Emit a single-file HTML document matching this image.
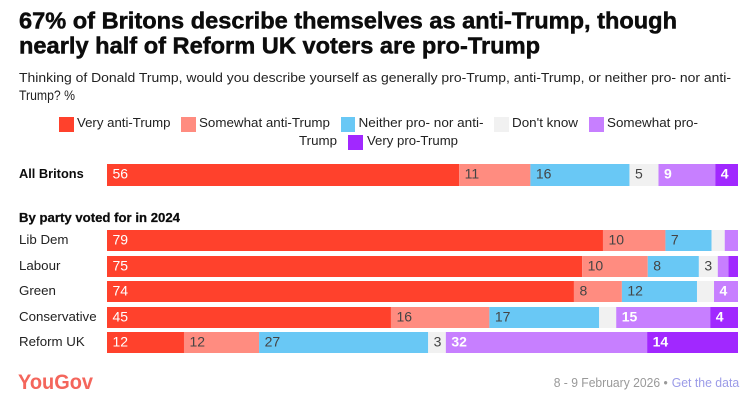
<!DOCTYPE html>
<html lang="en">
<head>
<meta charset="utf-8">
<title>67% of Britons describe themselves as anti-Trump</title>
<style>
html,body{margin:0;padding:0;background:#fff;width:751px;height:401px;overflow:hidden}
svg{display:block;font-family:"Liberation Sans",sans-serif}
</style>
</head>
<body>
<svg id="chart" width="751" height="401" viewBox="0 0 751 401" xmlns="http://www.w3.org/2000/svg">
  <rect width="751" height="401" fill="#fff"/>
  <g font-size="23.5" font-weight="700" fill="#0c0c0c" stroke="#0c0c0c" stroke-width="0.5">
    <text x="19" y="28.5" textLength="658" lengthAdjust="spacingAndGlyphs">67% of Britons describe themselves as anti-Trump, though</text>
    <text x="19" y="53.5" textLength="521" lengthAdjust="spacingAndGlyphs">nearly half of Reform UK voters are pro-Trump</text>
  </g>
  <g font-size="13" fill="#222">
    <text x="19" y="82" textLength="712" lengthAdjust="spacingAndGlyphs">Thinking of Donald Trump, would you describe yourself as generally pro-Trump, anti-Trump, or neither pro- nor anti-</text>
    <text x="19" y="100" font-size="13.5" textLength="56" lengthAdjust="spacingAndGlyphs">Trump? %</text>
  </g>
  <g id="legend" font-size="13" fill="#222">
    <rect x="59" y="117" width="15" height="15" fill="#ff412c"/>
    <text x="77" y="127" textLength="93.5" lengthAdjust="spacingAndGlyphs">Very anti-Trump</text>
    <rect x="181" y="117" width="15" height="15" fill="#ff8c80"/>
    <text x="199" y="127" textLength="131" lengthAdjust="spacingAndGlyphs">Somewhat anti-Trump</text>
    <rect x="341" y="117" width="14" height="15" fill="#69c8f5"/>
    <text x="358.5" y="127" textLength="125" lengthAdjust="spacingAndGlyphs">Neither pro- nor anti-</text>
    <text x="299" y="145" textLength="38" lengthAdjust="spacingAndGlyphs">Trump</text>
    <rect x="494" y="117" width="15" height="15" fill="#f1f1f1"/>
    <text x="512" y="127" textLength="66" lengthAdjust="spacingAndGlyphs">Don't know</text>
    <rect x="589" y="117" width="15" height="15" fill="#c77fff"/>
    <text x="607" y="127" textLength="91" lengthAdjust="spacingAndGlyphs">Somewhat pro-</text>
    <rect x="348" y="135" width="15" height="15" fill="#a128ff"/>
    <text x="367" y="145" textLength="91" lengthAdjust="spacingAndGlyphs">Very pro-Trump</text>
  </g>
  <text x="19" y="222" font-size="13" font-weight="700" fill="#0c0c0c" stroke="#0c0c0c" stroke-width="0.25" textLength="161" lengthAdjust="spacingAndGlyphs">By party voted for in 2024</text>
  <g id="bars"></g>
  <text x="18" y="389" font-size="21" font-weight="700" fill="#f4665c" textLength="75" lengthAdjust="spacingAndGlyphs">YouGov</text>
  <text x="553.7" y="387" font-size="12.5" fill="#999" textLength="114" lengthAdjust="spacingAndGlyphs">8 - 9 February 2026 •</text>
  <a href="#"><text x="671.7" y="387" font-size="12.5" fill="#9b9be8" textLength="67.5" lengthAdjust="spacingAndGlyphs">Get the data</text></a>
</svg>
<script>
const categories = ["All Britons", "Lib Dem", "Labour", "Green", "Conservative", "Reform UK"];
const seriesNames = ["very-anti", "somewhat-anti", "neither", "dont-know", "somewhat-pro", "very-pro"];
const veryAnti = [55.8, 78.6, 75.3, 74.0, 45.0, 12.2];
const somewhatAnti = [11.3, 9.9, 10.4, 7.6, 15.6, 11.9];
const neither = [15.7, 7.3, 8.1, 11.9, 17.4, 26.8];
const dontKnow = [4.6, 2.1, 3.0, 2.7, 2.7, 2.8];
const somewhatPro = [9.0, 2.1, 1.7, 3.8, 14.9, 31.9];
const veryPro = [3.6, 0, 1.5, 0, 4.4, 14.4];

const seriesValues = [veryAnti, somewhatAnti, neither, dontKnow, somewhatPro, veryPro];
const seriesColors = ["#ff412c", "#ff8c80", "#69c8f5", "#f1f1f1", "#c77fff", "#a128ff"];
const labelColors = ["#fff", "#444", "#444", "#444", "#fff", "#fff"];
const labelWeights = ["400", "400", "400", "400", "700", "700"];
const NS = "http://www.w3.org/2000/svg";
const barsGroup = document.getElementById("bars");

function xScale(v) { return 107 + v * 6.31; }
function rowTop(i) { return i === 0 ? 164 : 230 + (i - 1) * 25.5; }
function rowHeight(i) { return i === 0 ? 22 : 21; }
function slug(s) { return s.toLowerCase().replace(/\s+/g, "-"); }

categories.forEach(function (cat, i) {
  const top = Math.round(rowTop(i));
  const h = rowHeight(i);
  const rowLabel = document.createElementNS(NS, "text");
  
  
  rowLabel.setAttribute("x", 19);
  rowLabel.setAttribute("y", top + 14);
  rowLabel.setAttribute("font-size", i === 0 ? 12.8 : 13.3);
  rowLabel.setAttribute("fill", i === 0 ? "#0c0c0c" : "#222");
  rowLabel.setAttribute("font-weight", i === 0 ? "700" : "400");
  rowLabel.textContent = cat;
  barsGroup.appendChild(rowLabel);

  let cum = 0;
  seriesValues.forEach(function (series, s) {
    const v = series[i];
    if (v <= 0) { return; }
    const x0 = xScale(cum);
    const x1 = xScale(cum + v);
    const seg = document.createElementNS(NS, "rect");
    
    
    seg.setAttribute("x", x0);
    seg.setAttribute("y", top);
    seg.setAttribute("width", x1 - x0);
    seg.setAttribute("height", h);
    seg.setAttribute("fill", seriesColors[s]);
    barsGroup.appendChild(seg);
    if (v >= 2.8) {
      const lab = document.createElementNS(NS, "text");
      
      
      lab.setAttribute("x", x0 + 5.5);
      lab.setAttribute("y", top + 14.3);
      lab.setAttribute("font-size", 14);
      lab.setAttribute("font-weight", labelWeights[s]);
      lab.setAttribute("fill", labelColors[s]);
      lab.textContent = String(Math.round(v));
      barsGroup.appendChild(lab);
    }
    cum += v;
  });
});
</script>
</body>
</html>
